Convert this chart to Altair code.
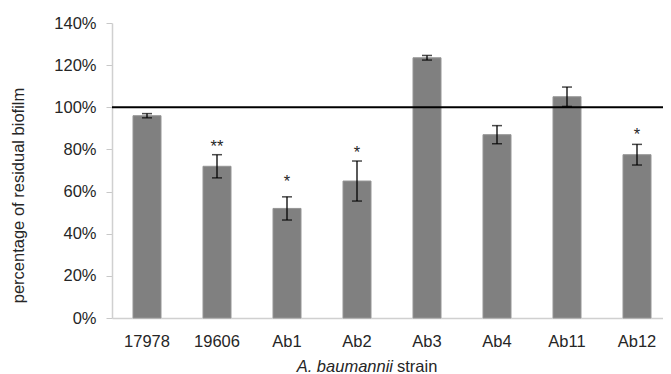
import altair as alt
import pandas as pd

strains = ["17978", "19606", "Ab1", "Ab2", "Ab3", "Ab4", "Ab11", "Ab12"]
means = [0.96, 0.72, 0.52, 0.65, 1.235, 0.87, 1.05, 0.775]
errors = [0.010, 0.055, 0.055, 0.095, 0.011, 0.043, 0.046, 0.049]

star_strains = ["19606", "Ab1", "Ab2", "Ab12"]
star_labels = ["**", "*", "*", "*"]
star_levels = [0.83, 0.664, 0.80, 0.887]

y_ticks = [0, 0.2, 0.4, 0.6, 0.8, 1.0, 1.2, 1.4]
reference_level = 1.0

x_title_italic = "A. baumannii"
x_title_plain = "strain"
y_title = "percentage of residual biofilm"

FONT = "Liberation Sans"
FS = 16.5
W, H = 551, 295

df = pd.DataFrame({
    "strain": strains,
    "mean": means,
    "lo": [m - e for m, e in zip(means, errors)],
    "hi": [m + e for m, e in zip(means, errors)],
})
stars = pd.DataFrame({"strain": star_strains, "label": star_labels, "level": star_levels})

xenc = alt.X("strain:N", sort=strains,
             scale=alt.Scale(range=[0, 560], paddingInner=0.6, paddingOuter=0.3),
             axis=alt.Axis(title=None, labelAngle=0, labelFontSize=FS, labelFont=FONT,
                           labelColor="#262626", ticks=False, domainColor="#d0d0d0",
                           domainWidth=1.5, labelPadding=15))
yscale = alt.Scale(domain=[0, 1.4], nice=False)

base = alt.Chart(df)

bars = base.mark_bar(color="#808080", stroke="#959595", strokeWidth=1).encode(
    x=xenc,
    y=alt.Y("mean:Q", scale=yscale,
            axis=alt.Axis(values=y_ticks, format=".0%", grid=False, title=y_title,
                          titleFont=FONT, titleFontSize=FS, titleFontWeight="normal",
                          titleColor="#262626", titleAngle=-90, titleX=-94, titleY=172,
                          titleAlign="center", titleBaseline="middle",
                          labelFont=FONT, labelFontSize=FS, labelColor="#262626",
                          labelPadding=10, tickSize=6, tickColor="#c8c8c8",
                          domainColor="#d0d0d0", domainWidth=1.5)),
)

err_rule = base.mark_rule(color="black", strokeWidth=1.3).encode(
    x=alt.X("strain:N", sort=strains), y="lo:Q", y2="hi:Q")
cap_hi = base.mark_tick(color="black", thickness=1.5, size=10, orient="horizontal").encode(
    x=alt.X("strain:N", sort=strains), y="hi:Q")
cap_lo = base.mark_tick(color="black", thickness=1.5, size=10, orient="horizontal").encode(
    x=alt.X("strain:N", sort=strains), y="lo:Q")

ref_line = alt.Chart(pd.DataFrame({"v": [reference_level]})).mark_rule(
    color="black", strokeWidth=2).encode(
    y="v:Q", x=alt.value(0), x2=alt.value(W))

star_text = alt.Chart(stars).mark_text(font=FONT, fontSize=FS, color="#262626",
                                       baseline="alphabetic", dy=9).encode(
    x=alt.X("strain:N", sort=strains), y="level:Q", text="label:N")

one = pd.DataFrame({"a": [0]})
title_it = alt.Chart(one).mark_text(font=FONT, fontSize=FS, fontStyle="italic",
                                    color="#262626", align="right", baseline="middle").encode(
    x=alt.value(281), y=alt.value(344), text=alt.value(x_title_italic))
title_pl = alt.Chart(one).mark_text(font=FONT, fontSize=FS, color="#262626",
                                    align="left", baseline="middle").encode(
    x=alt.value(285), y=alt.value(344), text=alt.value(x_title_plain))

chart = alt.layer(bars, err_rule, cap_hi, cap_lo, ref_line, star_text, title_it, title_pl).properties(
    width=W, height=H,
    autosize=alt.AutoSizeParams(type="none"),
    padding={"left": 104, "top": 15, "right": 0, "bottom": 60},
).configure_view(stroke=None)

chart.save("out.html", embed_options={"renderer": "svg", "actions": False})
